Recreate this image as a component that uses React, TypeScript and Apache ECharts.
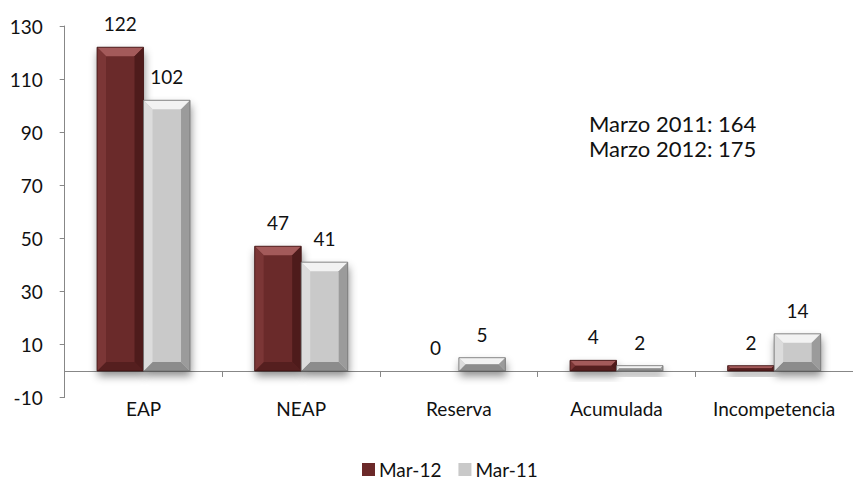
import React, { useEffect, useRef } from "react";
import * as echarts from "echarts";

const categories = ["EAP", "NEAP", "Reserva", "Acumulada", "Incompetencia"];
const mar12 = [122, 47, 0, 4, 2];
const mar11 = [102, 41, 5, 2, 14];
const seriesNames = ["Mar-12", "Mar-11"];
const yTicks = { min: -10, max: 130, interval: 20 };
const noteLines = ["Marzo 2011: 164", "Marzo 2012: 175"];

const FONT = "Lato, 'Noto Sans', sans-serif";
const FS = 19;
const BAR_RATIO = 0.295;

const palettes = [
  { face: "#6b2929", top: "#a35a5a", left: "#7b3636", right: "#4e1b1b", bottom: "#551f1f", stroke: "#3d1414" },
  { face: "#c9c9c9", top: "#f2f2f2", left: "#dcdcdc", right: "#9b9b9b", bottom: "#8c8c8c", stroke: "#6e6e6e" },
];

function bevelItem(seriesIdx: number) {
  return (params: any, api: any) => {
    const i = api.value(0);
    const v = api.value(1);
    if (!v) return { type: "group", children: [] };
    const bandW = api.size([1, 0])[0];
    const w = bandW * BAR_RATIO;
    const [cx, yBot] = api.coord([i, 0]);
    const [, yTop] = api.coord([i, v]);
    const x0 = seriesIdx === 0 ? cx - w : cx;
    const x1 = x0 + w;
    const h = yBot - yTop;
    const b = Math.min(9, h / 2, w / 2);
    const p = palettes[seriesIdx];
    return {
      type: "group",
      children: [
        { type: "polygon", shape: { points: [[x0, yTop], [x1, yTop], [x1 - b, yTop + b], [x0 + b, yTop + b]] }, style: { fill: p.top } },
        { type: "polygon", shape: { points: [[x0, yBot], [x1, yBot], [x1 - b, yBot - b], [x0 + b, yBot - b]] }, style: { fill: p.bottom } },
        { type: "polygon", shape: { points: [[x0, yTop], [x0 + b, yTop + b], [x0 + b, yBot - b], [x0, yBot]] }, style: { fill: p.left } },
        { type: "polygon", shape: { points: [[x1, yTop], [x1 - b, yTop + b], [x1 - b, yBot - b], [x1, yBot]] }, style: { fill: p.right } },
        { type: "rect", shape: { x: x0, y: yTop, width: w, height: h }, style: { fill: "none", stroke: p.stroke, lineWidth: 0.8 } },
      ],
    };
  };
}

export default function App() {
  const ref = useRef<HTMLDivElement>(null);
  useEffect(() => {
    if (!ref.current) return;
    document.body.style.margin = "0";
    const chart = echarts.init(ref.current, undefined, { renderer: "svg" });
    const labelStyle = {
      show: true,
      position: "top",
      distance: 14,
      fontFamily: FONT,
      fontSize: FS,
      color: "#111",
    };
    chart.setOption({
      animation: false,
      backgroundColor: "#fff",
      textStyle: { fontFamily: FONT },
      grid: { left: 64.7, right: -8.3, top: 26, bottom: 82.5, containLabel: false },
      legend: {
        data: seriesNames,
        left: 357,
        top: 455,
        icon: "rect",
        itemWidth: 13,
        itemHeight: 13,
        itemGap: 17,
        textStyle: { fontFamily: FONT, fontSize: FS, color: "#111", padding: [0, 0, 0, -1] },
      },
      xAxis: {
        type: "category",
        data: categories,
        axisLine: { onZero: true, lineStyle: { color: "#878787", width: 1 } },
        axisTick: { show: true, length: 6, interval: 0, lineStyle: { color: "#878787" } },
        axisLabel: { margin: 1, fontFamily: FONT, fontSize: FS, color: "#111", interval: 0 },
        splitLine: { show: false },
      },
      yAxis: {
        type: "value",
        min: yTicks.min,
        max: yTicks.max,
        interval: yTicks.interval,
        axisLine: { show: true, lineStyle: { color: "#878787", width: 1 } },
        axisTick: { show: true, length: 5, lineStyle: { color: "#878787" } },
        axisLabel: { margin: 22, fontFamily: FONT, fontSize: FS, color: "#111" },
        splitLine: { show: false },
      },
      series: [
        {
          name: seriesNames[0],
          type: "bar",
          data: mar12,
          barWidth: "29.5%",
          barGap: "0%",
          itemStyle: {
            color: palettes[0].face,
            shadowBlur: 8,
            shadowOffsetY: 5,
            shadowOffsetX: 1,
            shadowColor: "rgba(0,0,0,0.45)",
          },
          label: labelStyle,
          z: 2,
        },
        {
          name: seriesNames[1],
          type: "bar",
          data: mar11,
          barWidth: "29.5%",
          barGap: "0%",
          itemStyle: {
            color: palettes[1].face,
            shadowBlur: 8,
            shadowOffsetY: 5,
            shadowOffsetX: 1,
            shadowColor: "rgba(0,0,0,0.45)",
          },
          label: labelStyle,
          z: 2,
        },
        {
          type: "custom",
          silent: true,
          z: 3,
          data: categories.map((c, i) => [i, mar12[i]]),
          renderItem: bevelItem(0),
        },
        {
          type: "custom",
          silent: true,
          z: 3,
          data: categories.map((c, i) => [i, mar11[i]]),
          renderItem: bevelItem(1),
        },
      ],
      graphic: [
        {
          type: "text",
          left: 589,
          top: 111,
          style: {
            text: noteLines.join("\n"),
            font: `22px ${FONT}`,
            lineHeight: 25,
            fill: "#111",
          },
        },
      ],
    });
    return () => chart.dispose();
  }, []);
  return <div ref={ref} style={{ position: "absolute", left: 0, top: 0, width: 853, height: 480 }} />;
}
